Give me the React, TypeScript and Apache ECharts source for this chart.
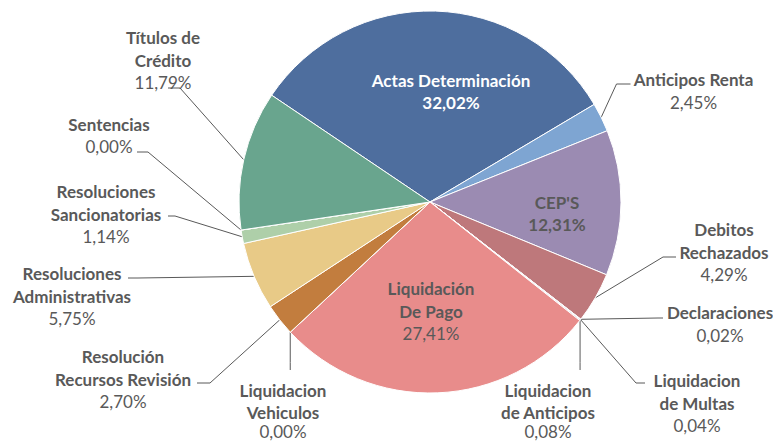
import React, { useEffect, useRef } from 'react';
import * as echarts from 'echarts';

const categories = [
  'Actas Determinación',
  'Anticipos Renta',
  "CEP'S",
  'Debitos Rechazados',
  'Declaraciones',
  'Liquidacion de Multas',
  'Liquidacion de Anticipos',
  'Liquidación De Pago',
  'Liquidacion Vehiculos',
  'Resolución Recursos Revisión',
  'Resoluciones Administrativas',
  'Resoluciones Sancionatorias',
  'Sentencias',
  'Títulos de Crédito',
];

const labelTexts = [
  'Actas Determinación',
  'Anticipos Renta',
  "CEP'S",
  'Debitos\nRechazados',
  'Declaraciones',
  'Liquidacion\nde Multas',
  'Liquidacion\nde Anticipos',
  'Liquidación\nDe Pago',
  'Liquidacion\nVehiculos',
  'Resolución\nRecursos Revisión',
  'Resoluciones\nAdministrativas',
  'Resoluciones\nSancionatorias',
  'Sentencias',
  'Títulos de\nCrédito',
];

const values = [32.02, 2.45, 12.31, 4.29, 0.02, 0.04, 0.08, 27.41, 0.0, 2.7, 5.75, 1.14, 0.0, 11.79];

const colors = [
  '#4E6E9E',
  '#7EA5D2',
  '#9B8BB2',
  '#BE787B',
  '#5FA08A',
  '#7EA5D2',
  '#9B8BB2',
  '#E88C8B',
  '#C27D3E',
  '#C27D3E',
  '#E8CA87',
  '#AECFA9',
  '#69A58E',
  '#69A58E',
];

const FONT = 'Lato, "Noto Sans", sans-serif';
const TEXT = '#595959';

// label layout (centre of each label block) and leader line offsets, relative to label centre
const labelPos: number[][] = [
  [451, 91.5],
  [693.5, 91],
  [557, 213.5],
  [724, 252],
  [720, 324],
  [697, 403],
  [548, 409.5],
  [431, 311],
  [283, 409.5],
  [123, 379],
  [72, 296],
  [106, 214],
  [109, 135.5],
  [163, 60],
];

type Leader = { vertical?: boolean; elbow: number[]; end: number[] } | null;
const leaders: Leader[] = [
  null,
  { elbow: [-77, -7], end: [-63, -7] },
  null,
  { elbow: [-61, 5], end: [-48, 5] },
  { elbow: [-62, -6], end: [-57, -6] },
  { elbow: [-61, -20], end: [-52, -20] },
  { vertical: true, elbow: [0, -47], end: [0, -39.5] },
  null,
  { vertical: true, elbow: [0, -47], end: [0, -39.5] },
  { elbow: [87, 4], end: [74, 4] },
  { elbow: [66, -18], end: [56, -18] },
  { elbow: [69, 2], end: [62, 2] },
  { elbow: [39, 16.5], end: [28, 16.5] },
  { elbow: [17, 28], end: [5, 28] },
];

const insideIdx = [0, 2, 7];
const bottomIdx = [6, 8];

const fmt = (v: number) => v.toFixed(2).replace('.', ',') + '%';

export default function App() {
  const ref = useRef<HTMLDivElement>(null);
  useEffect(() => {
    const chart = echarts.init(ref.current!, undefined, { renderer: 'svg' });
    const base = { fontFamily: FONT, fontSize: 17, lineHeight: 22.5, color: TEXT };
    const data = categories.map((name, i) => ({
      name,
      value: values[i],
      itemStyle: { color: colors[i] },
      label: insideIdx.includes(i) ? { position: 'inside' } : { position: 'outside' },
      labelLine: { show: !insideIdx.includes(i) },
    }));
    chart.setOption({
      animation: false,
      textStyle: { fontFamily: FONT },
      series: [
        {
          type: 'pie',
          center: [430, 202],
          radius: 191,
          startAngle: 146,
          clockwise: true,
          avoidLabelOverlap: false,
          emphasis: { disabled: true },
          itemStyle: { borderColor: '#ffffff', borderWidth: 1 },
          label: {
            show: true,
            alignTo: 'none',
            formatter: (p: any) => {
              const i = p.dataIndex;
              const ns = i === 0 ? 'nw' : bottomIdx.includes(i) ? 'nb' : 'n';
              const ps = i === 0 ? 'pw' : i === 2 ? 'pb' : bottomIdx.includes(i) ? 'pl' : 'p';
              const lines = labelTexts[i].split('\n').map((l) => `{${ns}|${l}}`);
              lines.push(`{${ps}|${fmt(values[i])}}`);
              return lines.join('\n');
            },
            rich: {
              n: { ...base, fontWeight: 'bold' },
              nb: { ...base, fontWeight: 'bold', lineHeight: 22 },
              nw: { ...base, fontWeight: 'bold', color: '#ffffff' },
              p: { ...base, fontWeight: 'normal' },
              pl: { ...base, fontWeight: 'normal', lineHeight: 17 },
              pb: { ...base, fontWeight: 'bold' },
              pw: { ...base, fontWeight: 'bold', color: '#ffffff' },
            },
          },
          labelLine: {
            show: true,
            length: 8,
            length2: 8,
            smooth: false,
            lineStyle: { color: TEXT, width: 1 },
          },
          labelLayout: (params: any) => {
            const i = params.dataIndex;
            const [x, y] = labelPos[i];
            const out: any = { x, y, align: 'center', verticalAlign: 'middle' };
            const spec = leaders[i];
            if (spec && params.labelLinePoints) {
              const p0 = params.labelLinePoints[0];
              if (spec.vertical) {
                out.labelLinePoints = [
                  [p0[0], p0[1]],
                  [p0[0], y + spec.elbow[1]],
                  [p0[0], y + spec.end[1]],
                ];
              } else {
                out.labelLinePoints = [
                  [p0[0], p0[1]],
                  [x + spec.elbow[0], y + spec.elbow[1]],
                  [x + spec.end[0], y + spec.end[1]],
                ];
              }
            }
            return out;
          },
          data,
        },
      ],
    });
    return () => chart.dispose();
  }, []);
  return (
    <div
      ref={ref}
      style={{ position: 'fixed', left: 0, top: 0, width: 773, height: 441, background: '#ffffff' }}
    />
  );
}
